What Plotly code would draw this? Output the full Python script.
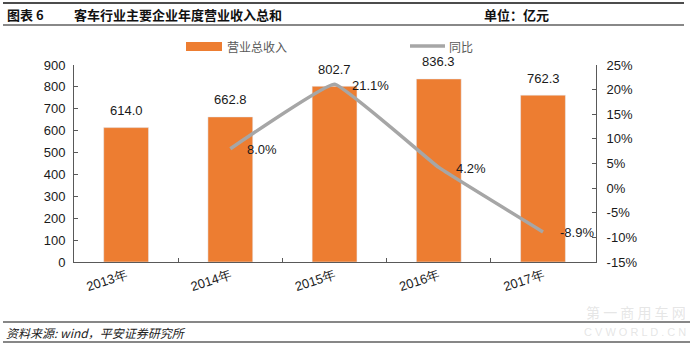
import plotly.graph_objects as go

categories = ["2013年", "2014年", "2015年", "2016年", "2017年"]
revenue = [614.0, 662.8, 802.7, 836.3, 762.3]
yoy = [None, 8.0, 21.1, 4.2, -8.9]
left_ticks = [0, 100, 200, 300, 400, 500, 600, 700, 800, 900]
right_ticks = [-15, -10, -5, 0, 5, 10, 15, 20, 25]
right_tick_text = [f"{v}%" for v in right_ticks]

W_PX, H_PX = 692, 348
L, R, T, B = 74, 596, 65, 262
PW, PH = R - L, B - T


def px(x):
    return (x - L) / PW


def py(y):
    return (B - y) / PH


FONT = "Liberation Sans, Arial, sans-serif"
CJK = "Noto Sans CJK SC, sans-serif"
AX = "#595959"
ORANGE = "#ED7D31"
GRAY = "#A6A6A6"

fig = go.Figure()
fig.add_trace(go.Bar(
    x=categories, y=revenue, name="营业总收入", marker_color=ORANGE,
    width=0.43, yaxis="y", showlegend=False, hoverinfo="skip",
))
fig.add_trace(go.Scatter(
    x=categories, y=yoy, name="同比", mode="lines",
    line=dict(color=GRAY, width=3.5, shape="spline", smoothing=0.25),
    yaxis="y2", showlegend=False, connectgaps=False, hoverinfo="skip",
))

annotations = []
for c, v in zip(categories, revenue):
    annotations.append(dict(
        x=c, y=v, xref="x", yref="y", text=f"{v:.1f}", showarrow=False,
        yshift=17, font=dict(family=FONT, size=13, color="#1a1a1a"),
    ))
for c, v in zip(categories, yoy):
    if v is None:
        continue
    annotations.append(dict(
        x=c, y=v, xref="x", yref="y2", text=f"{v:.1f}%", showarrow=False,
        xanchor="left", xshift=15, yshift=-1,
        font=dict(family=FONT, size=13, color="#1a1a1a"),
    ))

# title row
annotations += [
    dict(x=px(5), y=py(15), xref="paper", yref="paper", xanchor="left", yanchor="middle",
         text="<b>图表 6</b>", showarrow=False, font=dict(family=CJK, size=13, color="#111")),
    dict(x=px(72), y=py(15), xref="paper", yref="paper", xanchor="left", yanchor="middle",
         text="<b>客车行业主要企业年度营业收入总和</b>", showarrow=False,
         font=dict(family=CJK, size=13, color="#111")),
    dict(x=px(482), y=py(15), xref="paper", yref="paper", xanchor="left", yanchor="middle",
         text="<b>单位：亿元</b>", showarrow=False, font=dict(family=CJK, size=13, color="#111")),
    # legend texts
    dict(x=px(225), y=py(46), xref="paper", yref="paper", xanchor="left", yanchor="middle",
         text="营业总收入", showarrow=False, font=dict(family=CJK, size=12, color="#595959")),
    dict(x=px(447), y=py(46), xref="paper", yref="paper", xanchor="left", yanchor="middle",
         text="同比", showarrow=False, font=dict(family=CJK, size=12, color="#595959")),
    # footer
    dict(x=px(4), y=py(332), xref="paper", yref="paper", xanchor="left", yanchor="middle",
         text="<i>资料来源: wind，平安证券研究所</i>", showarrow=False,
         font=dict(family=CJK, size=12, color="#222")),
    # watermark
    dict(x=px(688), y=py(312), xref="paper", yref="paper", xanchor="right", yanchor="middle",
         text="第 一 商 用 车 网", showarrow=False,
         font=dict(family=CJK, size=14, color="rgba(190,190,190,0.4)")),
    dict(x=px(688), y=py(332), xref="paper", yref="paper", xanchor="right", yanchor="middle",
         text="C V W O R L D . C N", showarrow=False,
         font=dict(family=FONT, size=11, color="rgba(190,190,190,0.4)")),
]

shapes = [
    dict(type="line", xref="paper", yref="paper", x0=px(3), x1=px(684), y0=py(3), y1=py(3),
         line=dict(color="#111", width=1.5)),
    dict(type="line", xref="paper", yref="paper", x0=px(3), x1=px(684), y0=py(25), y1=py(25),
         line=dict(color="#888", width=2)),
    dict(type="line", xref="paper", yref="paper", x0=px(3), x1=px(690), y0=py(322), y1=py(322),
         line=dict(color="#111", width=1.2)),
    dict(type="line", xref="paper", yref="paper", x0=px(3), x1=px(690), y0=py(342), y1=py(342),
         line=dict(color="#111", width=1.2)),
    # legend swatches
    dict(type="rect", xref="paper", yref="paper", x0=px(186), x1=px(222), y0=py(51), y1=py(42),
         fillcolor=ORANGE, line=dict(width=0)),
    dict(type="line", xref="paper", yref="paper", x0=px(410), x1=px(445), y0=py(46), y1=py(46),
         line=dict(color=GRAY, width=3.5)),
]

fig.update_layout(
    width=W_PX, height=H_PX,
    margin=dict(l=L, r=W_PX - R, t=T, b=H_PX - B, pad=0),
    paper_bgcolor="white", plot_bgcolor="white",
    showlegend=False,
    font=dict(family=FONT, size=13, color="#1a1a1a"),
    xaxis=dict(
        type="category", showgrid=False, showline=True, linecolor=AX, linewidth=1,
        ticks="inside", ticklen=4, tickcolor=AX, tickson="boundaries",
        tickangle=-18, tickfont=dict(family=FONT, size=13, color="#1a1a1a"),
        zeroline=False, fixedrange=True,
    ),
    yaxis=dict(
        range=[0, 900], tickvals=left_ticks, showgrid=False, showline=True,
        linecolor=AX, linewidth=1, ticks="inside", ticklen=4, tickcolor=AX,
        ticklabelstandoff=5, zeroline=False,
        tickfont=dict(family=FONT, size=13, color="#1a1a1a"),
    ),
    yaxis2=dict(
        range=[-15, 25], tickvals=right_ticks, ticktext=right_tick_text,
        overlaying="y", side="right", showgrid=False, showline=True,
        linecolor=AX, linewidth=1, ticks="inside", ticklen=4, tickcolor=AX,
        ticklabelstandoff=7, zeroline=False,
        tickfont=dict(family=FONT, size=13, color="#1a1a1a"),
    ),
    annotations=annotations,
    shapes=shapes,
)

fig.write_html("out.html")
